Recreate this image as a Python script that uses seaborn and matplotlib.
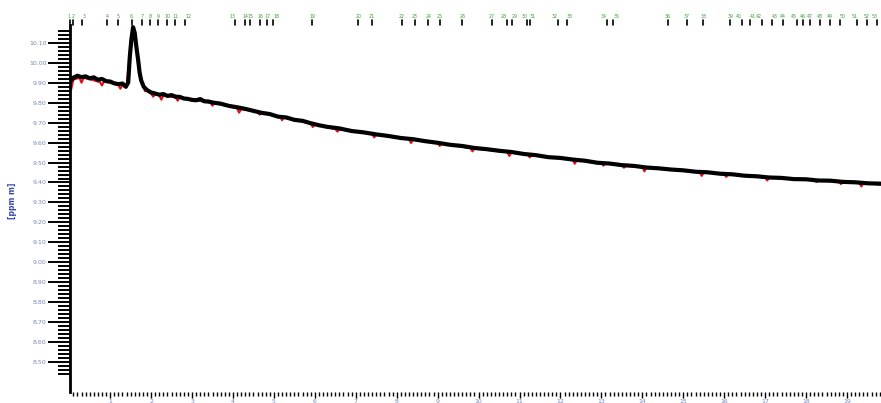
import matplotlib
matplotlib.use("Agg")
import matplotlib.pyplot as plt
import seaborn as sns
import pandas as pd
from matplotlib.ticker import FixedLocator, FormatStrFormatter

# ---------------- data ----------------
black_x = [0.02, 0.1, 0.2, 0.3, 0.4, 0.5, 0.6, 0.7, 0.8, 0.9, 1.0, 1.1, 1.2, 1.3, 1.38,
           1.44, 1.48, 1.52, 1.56, 1.60, 1.64, 1.68, 1.72, 1.76, 1.82, 1.9, 2.0,
           2.1, 2.2, 2.3, 2.4, 2.5, 2.6, 2.7, 2.8, 2.9, 3.0, 3.1, 3.2, 3.3, 3.4, 3.5,
           3.7, 3.9, 4.1, 4.3, 4.5, 4.7, 4.9, 5.1, 5.3, 5.5, 5.7, 5.9, 6.1, 6.3, 6.6,
           6.9, 7.2, 7.5, 7.8, 8.1, 8.4, 8.7, 9.0, 9.3, 9.6, 9.9, 10.2, 10.5, 10.8,
           11.1, 11.4, 11.7, 12.0, 12.3, 12.6, 12.9, 13.2, 13.5, 13.8, 14.1, 14.4,
           14.7, 15.0, 15.3, 15.6, 15.9, 16.2, 16.5, 16.8, 17.1, 17.4, 17.7, 18.0,
           18.3, 18.6, 18.9, 19.2, 19.5, 19.83]
black_y = [9.905, 9.925, 9.935, 9.928, 9.932, 9.922, 9.927, 9.915, 9.919, 9.908, 9.906, 9.897, 9.893, 9.896, 9.880,
           9.900, 10.030, 10.120, 10.178, 10.150, 10.080, 10.020, 9.950, 9.910, 9.880, 9.863, 9.851,
           9.846, 9.840, 9.843, 9.834, 9.838, 9.830, 9.829, 9.821, 9.819, 9.814, 9.812, 9.818, 9.807, 9.806, 9.801,
           9.795, 9.784, 9.777, 9.769, 9.759, 9.749, 9.743, 9.730, 9.726, 9.714, 9.709, 9.697, 9.687, 9.679, 9.671,
           9.658, 9.651, 9.641, 9.633, 9.623, 9.617, 9.607, 9.599, 9.589, 9.583, 9.573, 9.567, 9.559, 9.553,
           9.543, 9.537, 9.527, 9.523, 9.515, 9.509, 9.499, 9.495, 9.487, 9.483, 9.475, 9.471,
           9.465, 9.461, 9.454, 9.451, 9.444, 9.441, 9.434, 9.431, 9.425, 9.423, 9.417, 9.416,
           9.410, 9.409, 9.403, 9.401, 9.396, 9.394]

red_x = [0.02, 0.05, 0.1, 0.25, 0.3, 0.35, 0.5, 0.75, 0.8, 0.85, 1.2, 1.25, 1.3, 1.4,
         1.5, 1.56, 1.62, 1.7, 1.75, 1.85, 1.9, 2.0, 2.05, 2.1, 2.2, 2.25, 2.3,
         2.6, 2.65, 2.7, 3.45, 3.5, 3.55, 4.1, 4.15, 4.2, 4.6, 4.65, 4.7,
         5.15, 5.2, 5.25, 5.9, 5.95, 6.0, 6.5, 6.55, 6.6, 7.4, 7.45, 7.5,
         8.3, 8.35, 8.4, 9.0, 9.05, 9.1, 9.8, 9.85, 9.9, 10.7, 10.75, 10.8,
         11.2, 11.25, 11.3, 12.3, 12.35, 12.4, 13.0, 13.05, 13.1, 13.5, 13.55, 13.6,
         14.0, 14.05, 14.1, 15.4, 15.45, 15.5, 16.0, 16.05, 16.1, 17.0, 17.05, 17.1,
         18.2, 18.25, 18.3, 18.8, 18.85, 18.9, 19.3, 19.35, 19.4, 19.83]
red_y = [9.900, 9.868, 9.915, 9.925, 9.900, 9.924, 9.918, 9.903, 9.886, 9.908, 9.889, 9.870, 9.888, 9.876,
         10.100, 10.170, 10.120, 9.980, 9.920, 9.858, 9.860, 9.846, 9.830, 9.843, 9.837, 9.815, 9.836,
         9.826, 9.810, 9.826, 9.800, 9.785, 9.799, 9.772, 9.750, 9.768, 9.756, 9.740, 9.754,
         9.729, 9.712, 9.727, 9.695, 9.678, 9.692, 9.668, 9.655, 9.667, 9.643, 9.626, 9.640,
         9.617, 9.598, 9.614, 9.597, 9.583, 9.595, 9.572, 9.556, 9.570, 9.553, 9.533, 9.550,
         9.540, 9.526, 9.538, 9.514, 9.494, 9.512, 9.498, 9.484, 9.496, 9.487, 9.474, 9.485,
         9.477, 9.456, 9.474, 9.451, 9.433, 9.450, 9.441, 9.428, 9.440, 9.426, 9.410, 9.424,
         9.414, 9.402, 9.412, 9.404, 9.392, 9.402, 9.398, 9.380, 9.396, 9.390]

marker_x = [0.02, 0.10, 0.32, 0.93, 1.20, 1.54, 1.78, 1.98, 2.17, 2.39, 2.59, 2.83,
            4.05, 4.30, 4.42, 4.66, 4.84, 4.98, 5.94, 7.06, 7.40, 8.13, 8.45, 8.77,
            9.06, 9.60, 10.33, 10.70, 10.82, 11.19, 11.26, 11.94, 12.16, 13.14, 13.29,
            14.63, 15.09, 15.49, 16.15, 16.44, 16.63, 16.93, 17.17, 17.44, 17.78, 17.93,
            18.10, 18.34, 18.59, 18.83, 19.25, 19.49, 19.74]
marker_labels = [str(i + 1) for i in range(len(marker_x))]

y_major = [8.50, 8.60, 8.70, 8.80, 8.90, 9.00, 9.10, 9.20, 9.30, 9.40, 9.50,
           9.60, 9.70, 9.80, 9.90, 10.00, 10.10]
x_major = list(range(0, 20))
y_label = "[ppm m]"

# ---------------- figure ----------------
sns.set_theme(style="white")
plt.rcParams['font.family'] = ['DejaVu Sans']

fig = plt.figure(figsize=(8.81, 4.03), dpi=100)
ax = fig.add_axes([0.0795, 0.0273, 0.9205, 0.911])

df_red = pd.DataFrame({"t": red_x, "v": red_y})
df_black = pd.DataFrame({"t": black_x, "v": black_y})
sns.lineplot(data=df_red, x="t", y="v", ax=ax, color="#e0101a", lw=1.5,
             estimator=None, sort=False)
sns.lineplot(data=df_black, x="t", y="v", ax=ax, color="black", lw=3.0,
             estimator=None, sort=False)

ax.set_xlim(0.02, 19.83)
ax.set_ylim(8.35, 10.19)

for s in ["top", "right", "bottom"]:
    ax.spines[s].set_visible(False)
ax.spines["left"].set_color("black")
ax.spines["left"].set_linewidth(2)

ax.yaxis.set_major_locator(FixedLocator(y_major))
ax.yaxis.set_major_formatter(FormatStrFormatter("%.2f"))
y_minor = [round(8.44 + 0.02 * i, 2) for i in range(87)]
ax.yaxis.set_minor_locator(FixedLocator(y_minor))
ax.xaxis.set_major_locator(FixedLocator(x_major))
ax.xaxis.set_minor_locator(FixedLocator([round(0.1 * i, 1) for i in range(1, 199)]))

ax.tick_params(axis="y", which="major", direction="out", length=16, width=1.4,
               color="black", labelsize=4.5, labelcolor="#7a86b8", pad=1, left=True)
ax.tick_params(axis="y", which="minor", direction="out", length=8.5, width=1.4,
               color="black", left=True)
ax.tick_params(axis="x", which="major", direction="out", length=4.5, width=1.0,
               color="black", labelsize=4.5, labelcolor="#7a86b8", pad=0.5, bottom=True)
ax.tick_params(axis="x", which="minor", direction="out", length=3, width=1.0,
               color="black", bottom=True)

ax.set_xlabel("")
ax.set_ylabel(y_label, fontsize=5.5, color="#3548a8", fontweight="bold")
ax.yaxis.set_label_coords(-0.065, 0.52)

# top event markers
trans = ax.get_xaxis_transform()
n = len(marker_x)
gap = 0.26
xmax = 19.83
for i, (mx, lab) in enumerate(zip(marker_x, marker_labels)):
    ax.plot([mx, mx], [1.0, 1.012], transform=trans, color="black", lw=1.2,
            clip_on=False)
    close_next = i + 1 < n and marker_x[i + 1] - mx < gap
    close_prev = i > 0 and mx - marker_x[i - 1] < gap
    if xmax - mx < 0.15 or (close_next and not close_prev):
        ha = "right"
    elif close_prev and not close_next:
        ha = "left"
    else:
        ha = "center"
    ax.text(mx, 1.016, lab, transform=trans, fontsize=3.4, color="#3f9a3f",
            ha=ha, va="bottom", clip_on=False)

fig.savefig("out.png", dpi=100)
